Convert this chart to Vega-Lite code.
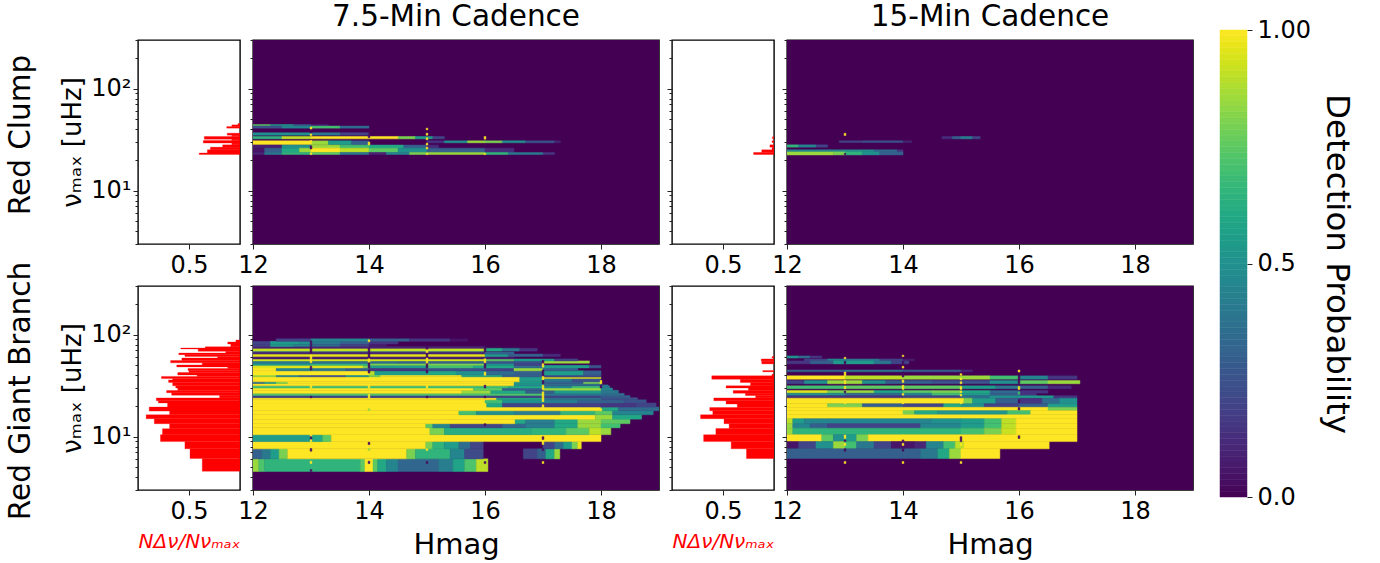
{"$schema":"https://vega.github.io/schema/vega-lite/v6.json","background":"white","padding":{"left":5,"top":0,"right":10,"bottom":0},"config":{"font":"DejaVu Sans","view":{"stroke":"#000","strokeWidth":1.4,"continuousWidth":406,"continuousHeight":204},"axis":{"grid":false,"domain":false,"labelFontSize":24,"labelColor":"#000","tickColor":"#222","titleColor":"#000","titleFontWeight":"normal","labelFlush":false,"labelOverlap":false}},"datasets":{"hRgb75":[{"f0":4.58,"f1":6.1,"v":0.37},{"f0":6.1,"f1":7.6,"v":0.49},{"f0":7.6,"f1":8.95,"v":0.54},{"f0":8.95,"f1":10.46,"v":0.78},{"f0":10.46,"f1":11.97,"v":0.76},{"f0":11.97,"f1":13.4,"v":0.69},{"f0":13.4,"f1":15,"v":0.84},{"f0":15,"f1":16.4,"v":0.92},{"f0":16.4,"f1":17.8,"v":0.69},{"f0":17.8,"f1":19.5,"v":0.89},{"f0":19.5,"f1":21.4,"v":0.71},{"f0":21.4,"f1":22.5,"v":0.8},{"f0":22.5,"f1":24,"v":0.82},{"f0":24,"f1":25.5,"v":0.2},{"f0":25.5,"f1":27,"v":0.67},{"f0":27,"f1":28.3,"v":0.72},{"f0":28.3,"f1":30,"v":0.61},{"f0":30,"f1":31.5,"v":0.63},{"f0":31.5,"f1":34,"v":0.66},{"f0":34,"f1":36,"v":0.7},{"f0":36,"f1":37.1,"v":0.66},{"f0":37.1,"f1":39,"v":0.77},{"f0":39,"f1":40.3,"v":0.42},{"f0":40.3,"f1":42.5,"v":0.61},{"f0":42.5,"f1":44.5,"v":0.5},{"f0":44.5,"f1":46.5,"v":0.51},{"f0":46.5,"f1":48.3,"v":0.12},{"f0":48.3,"f1":50.5,"v":0.62},{"f0":50.5,"f1":53,"v":0.37},{"f0":53,"f1":55.7,"v":0.68},{"f0":55.7,"f1":59,"v":0.57},{"f0":59,"f1":61,"v":0.22},{"f0":61,"f1":63.7,"v":0.54},{"f0":63.7,"f1":66,"v":0.6},{"f0":66,"f1":68.7,"v":0.14},{"f0":68.7,"f1":72.4,"v":0.41},{"f0":72.4,"f1":74,"v":0.58},{"f0":74,"f1":76,"v":0.34},{"f0":76,"f1":81,"v":0.09},{"f0":81,"f1":84.8,"v":0.12},{"f0":84.8,"f1":88.7,"v":0.04}],"hRgb15":[{"f0":6.1,"f1":7.6,"v":0.27},{"f0":7.6,"f1":8.95,"v":0.42},{"f0":8.95,"f1":10.46,"v":0.69},{"f0":10.46,"f1":12,"v":0.57},{"f0":12,"f1":13.4,"v":0.44},{"f0":13.4,"f1":15,"v":0.49},{"f0":15,"f1":16.4,"v":0.72},{"f0":16.4,"f1":17.95,"v":0.6},{"f0":17.95,"f1":19.3,"v":0.63},{"f0":19.3,"f1":20.9,"v":0.36},{"f0":20.9,"f1":22.5,"v":0.47},{"f0":22.5,"f1":24,"v":0.59},{"f0":24,"f1":25.3,"v":0.18},{"f0":25.3,"f1":26.7,"v":0.28},{"f0":26.7,"f1":28.3,"v":0.4},{"f0":28.3,"f1":30,"v":0.25},{"f0":30,"f1":31.5,"v":0.47},{"f0":31.5,"f1":34,"v":0.23},{"f0":34,"f1":36.6,"v":0.33},{"f0":36.6,"f1":39.45,"v":0.61},{"f0":39.45,"f1":41,"v":0.02},{"f0":43.2,"f1":44.5,"v":0.11},{"f0":51.7,"f1":55,"v":0.12},{"f0":55.3,"f1":57.8,"v":0.125},{"f0":59,"f1":61,"v":0.02}],"hRc75":[{"f0":22.6,"f1":23.4,"v":0.4},{"f0":23.4,"f1":25.16,"v":0.32},{"f0":25.16,"f1":26.7,"v":0.29},{"f0":26.7,"f1":28.15,"v":0.17},{"f0":28.15,"f1":29.3,"v":0.08},{"f0":29.3,"f1":31,"v":0.36},{"f0":31,"f1":32,"v":0.08},{"f0":32,"f1":34,"v":0.35},{"f0":34,"f1":35,"v":0.08},{"f0":35,"f1":36.6,"v":0.125},{"f0":41,"f1":42.5,"v":0.13},{"f0":42.5,"f1":44.15,"v":0.08},{"f0":44.15,"f1":45.5,"v":0.02}],"hRc15":[{"f0":22.6,"f1":23.7,"v":0.2},{"f0":23.7,"f1":25.16,"v":0.12},{"f0":25.16,"f1":26.5,"v":0.02},{"f0":26.7,"f1":28.15,"v":0.04},{"f0":29.7,"f1":30.8,"v":0.02},{"f0":32.2,"f1":33.7,"v":0.015}],"rc75":[{"m0":12,"m1":19,"f0":3,"f1":300,"p":0},{"m0":12,"m1":12.3,"f0":43.2,"f1":44.5,"p":0.75},{"m0":12.3,"m1":12.7,"f0":43.2,"f1":44.5,"p":0.55},{"m0":12.7,"m1":13,"f0":43.2,"f1":44.5,"p":0.3},{"m0":13,"m1":13.3,"f0":43.2,"f1":44.5,"p":0.1},{"m0":12,"m1":12.5,"f0":41,"f1":43,"p":0.25},{"m0":12.5,"m1":13,"f0":41,"f1":43,"p":0.45},{"m0":13,"m1":13.5,"f0":41,"f1":43,"p":0.7},{"m0":13.5,"m1":14,"f0":41,"f1":43,"p":0.35},{"m0":12,"m1":13,"f0":35,"f1":37,"p":0.5},{"m0":13,"m1":13.5,"f0":35,"f1":37,"p":0.4},{"m0":13.5,"m1":14,"f0":35,"f1":37,"p":0.2},{"m0":12,"m1":12.5,"f0":32.2,"f1":34,"p":0.65},{"m0":12.5,"m1":13,"f0":32.2,"f1":34,"p":0.9},{"m0":13,"m1":14.5,"f0":32.2,"f1":34,"p":1},{"m0":14.5,"m1":14.8,"f0":32.2,"f1":34,"p":0.8},{"m0":14.8,"m1":15.1,"f0":32.2,"f1":34,"p":0.55},{"m0":15.1,"m1":15.3,"f0":32.2,"f1":34,"p":0.2},{"m0":12,"m1":13,"f0":28.15,"f1":30.8,"p":1},{"m0":13,"m1":13.3,"f0":28.15,"f1":30.8,"p":0.85},{"m0":13.3,"m1":13.7,"f0":28.15,"f1":30.8,"p":0.55},{"m0":13.7,"m1":14,"f0":28.15,"f1":30.8,"p":0.3},{"m0":15,"m1":15.3,"f0":29.45,"f1":30.8,"p":0.15},{"m0":15.3,"m1":15.7,"f0":29.45,"f1":30.8,"p":0.5},{"m0":15.7,"m1":16,"f0":29.45,"f1":30.8,"p":0.85},{"m0":16,"m1":16.3,"f0":29.45,"f1":30.8,"p":0.8},{"m0":16.3,"m1":16.7,"f0":29.45,"f1":30.8,"p":0.5},{"m0":16.7,"m1":17.2,"f0":29.45,"f1":30.8,"p":0.25},{"m0":17.2,"m1":17.3,"f0":29.45,"f1":30.8,"p":0.1},{"m0":12,"m1":12.5,"f0":26.1,"f1":28,"p":0.08},{"m0":12.5,"m1":13,"f0":26.1,"f1":28,"p":0.5},{"m0":13,"m1":13.5,"f0":26.1,"f1":28,"p":0.85},{"m0":13.5,"m1":14,"f0":26.1,"f1":28,"p":0.7},{"m0":14,"m1":14.6,"f0":26.1,"f1":28,"p":0.6},{"m0":14.6,"m1":15,"f0":26.1,"f1":28,"p":0.3},{"m0":15,"m1":15.2,"f0":26.1,"f1":28,"p":0.12},{"m0":12,"m1":12.2,"f0":23.7,"f1":26.1,"p":0.05},{"m0":12.2,"m1":12.5,"f0":23.7,"f1":26.1,"p":0.3},{"m0":12.5,"m1":12.8,"f0":23.7,"f1":26.1,"p":0.6},{"m0":12.8,"m1":13,"f0":23.7,"f1":26.1,"p":0.85},{"m0":13,"m1":13.5,"f0":23.7,"f1":26.1,"p":1},{"m0":13.5,"m1":14,"f0":23.7,"f1":26.1,"p":0.9},{"m0":14,"m1":14.5,"f0":23.7,"f1":26.1,"p":0.75},{"m0":14.5,"m1":15,"f0":23.7,"f1":26.1,"p":0.5},{"m0":15,"m1":16,"f0":23.7,"f1":26.1,"p":0.3},{"m0":16,"m1":16.5,"f0":23.7,"f1":26.1,"p":0.12},{"m0":12,"m1":12.2,"f0":22.6,"f1":23.7,"p":0.1},{"m0":12.2,"m1":12.5,"f0":22.6,"f1":23.7,"p":0.4},{"m0":12.5,"m1":13,"f0":22.6,"f1":23.7,"p":0.65},{"m0":13,"m1":13.5,"f0":22.6,"f1":23.7,"p":0.75},{"m0":13.5,"m1":14,"f0":22.6,"f1":23.7,"p":0.4},{"m0":14,"m1":14.3,"f0":22.6,"f1":23.7,"p":0.1},{"m0":14.3,"m1":14.7,"f0":22.6,"f1":23.7,"p":0.45},{"m0":14.7,"m1":15,"f0":22.6,"f1":23.7,"p":0.8},{"m0":15,"m1":16,"f0":22.6,"f1":23.7,"p":0.85},{"m0":16,"m1":16.4,"f0":22.6,"f1":23.7,"p":0.65},{"m0":16.4,"m1":17,"f0":22.6,"f1":23.7,"p":0.4},{"m0":17,"m1":17.2,"f0":22.6,"f1":23.7,"p":0.15},{"m0":12.985,"m1":13.015,"f0":40,"f1":42,"p":1},{"m0":12.985,"m1":13.015,"f0":37,"f1":39.5,"p":0.02},{"m0":12.985,"m1":13.015,"f0":34.7,"f1":36,"p":1},{"m0":12.985,"m1":13.015,"f0":29,"f1":31,"p":1},{"m0":12.985,"m1":13.015,"f0":25.6,"f1":27.5,"p":0.02},{"m0":12.985,"m1":13.015,"f0":22.6,"f1":23.5,"p":1},{"m0":13.985,"m1":14.015,"f0":33,"f1":36.5,"p":0.05},{"m0":13.985,"m1":14.015,"f0":28,"f1":30,"p":1},{"m0":14.985,"m1":15.015,"f0":39.5,"f1":41,"p":1},{"m0":14.985,"m1":15.015,"f0":35,"f1":36.6,"p":1},{"m0":14.985,"m1":15.015,"f0":31.5,"f1":33,"p":1},{"m0":14.985,"m1":15.015,"f0":28,"f1":29.2,"p":1},{"m0":14.985,"m1":15.015,"f0":25.6,"f1":26.7,"p":1},{"m0":14.985,"m1":15.015,"f0":22.6,"f1":23.2,"p":1},{"m0":15.985,"m1":16.015,"f0":32,"f1":34,"p":1},{"m0":15.985,"m1":16.015,"f0":22.6,"f1":23.2,"p":1}],"rc15":[{"m0":12,"m1":19,"f0":3,"f1":300,"p":0},{"m0":14.67,"m1":14.85,"f0":32.2,"f1":34,"p":0.12},{"m0":14.85,"m1":15,"f0":32.2,"f1":34,"p":0.3},{"m0":15,"m1":15.2,"f0":32.2,"f1":34,"p":0.42},{"m0":15.2,"m1":15.33,"f0":32.2,"f1":34,"p":0.2},{"m0":12.9,"m1":13.3,"f0":29.7,"f1":30.8,"p":0.2},{"m0":13.3,"m1":14,"f0":29.7,"f1":30.8,"p":0.25},{"m0":14,"m1":14.15,"f0":29.7,"f1":30.8,"p":0.1},{"m0":12,"m1":12.2,"f0":26.7,"f1":28.15,"p":0.65},{"m0":12.2,"m1":12.5,"f0":26.7,"f1":28.15,"p":0.45},{"m0":12.5,"m1":12.7,"f0":26.7,"f1":28.15,"p":0.2},{"m0":12,"m1":13,"f0":24,"f1":25.16,"p":0.45},{"m0":13,"m1":13.5,"f0":24,"f1":25.16,"p":0.5},{"m0":13.5,"m1":13.9,"f0":24,"f1":25.16,"p":0.35},{"m0":13.9,"m1":14,"f0":24,"f1":25.16,"p":0.15},{"m0":12,"m1":12.8,"f0":22.4,"f1":24,"p":0.85},{"m0":12.8,"m1":13,"f0":22.4,"f1":24,"p":0.8},{"m0":13,"m1":13.3,"f0":22.4,"f1":24,"p":0.65},{"m0":13.3,"m1":13.6,"f0":22.4,"f1":24,"p":0.5},{"m0":13.6,"m1":14,"f0":22.4,"f1":24,"p":0.3},{"m0":12.985,"m1":13.015,"f0":34.7,"f1":36.5,"p":1},{"m0":12.985,"m1":13.015,"f0":22.6,"f1":23.2,"p":0.02}],"rgb75":[{"m0":12,"m1":19,"f0":3,"f1":300,"p":0},{"m0":12,"m1":12.1,"f0":4.55,"f1":6.06,"p":0.85},{"m0":12.1,"m1":12.2,"f0":4.55,"f1":6.06,"p":0.72},{"m0":12.2,"m1":13.85,"f0":4.55,"f1":6.06,"p":0.65},{"m0":13.85,"m1":13.93,"f0":4.55,"f1":6.06,"p":0.75},{"m0":13.93,"m1":14.07,"f0":4.55,"f1":6.06,"p":1},{"m0":14.07,"m1":14.15,"f0":4.55,"f1":6.06,"p":0.75},{"m0":14.15,"m1":14.3,"f0":4.55,"f1":6.06,"p":0.6},{"m0":14.3,"m1":14.5,"f0":4.55,"f1":6.06,"p":0.45},{"m0":14.5,"m1":15.2,"f0":4.55,"f1":6.06,"p":0.33},{"m0":15.2,"m1":15.45,"f0":4.55,"f1":6.06,"p":0.42},{"m0":15.45,"m1":15.65,"f0":4.55,"f1":6.06,"p":0.58},{"m0":15.65,"m1":15.85,"f0":4.55,"f1":6.06,"p":0.72},{"m0":15.85,"m1":16.05,"f0":4.55,"f1":6.06,"p":0.9},{"m0":12,"m1":12.15,"f0":6.06,"f1":7.6,"p":0.3},{"m0":12.15,"m1":12.3,"f0":6.06,"f1":7.6,"p":0.4},{"m0":12.3,"m1":12.45,"f0":6.06,"f1":7.6,"p":0.55},{"m0":12.45,"m1":12.6,"f0":6.06,"f1":7.6,"p":0.8},{"m0":12.6,"m1":14.65,"f0":6.06,"f1":7.6,"p":1},{"m0":14.65,"m1":14.8,"f0":6.06,"f1":7.6,"p":0.8},{"m0":14.8,"m1":15.4,"f0":6.06,"f1":7.6,"p":0.65},{"m0":15.4,"m1":15.65,"f0":6.06,"f1":7.6,"p":0.45},{"m0":15.65,"m1":15.97,"f0":6.06,"f1":7.6,"p":0.22},{"m0":16.66,"m1":16.9,"f0":6.06,"f1":7.6,"p":0.2},{"m0":16.9,"m1":17.05,"f0":6.06,"f1":7.6,"p":0.3},{"m0":17.05,"m1":17.2,"f0":6.06,"f1":7.6,"p":0.6},{"m0":17.2,"m1":17.29,"f0":6.06,"f1":7.6,"p":0.85},{"m0":12,"m1":14.98,"f0":7.6,"f1":8.95,"p":1},{"m0":14.98,"m1":15.1,"f0":7.6,"f1":8.95,"p":0.8},{"m0":15.1,"m1":15.3,"f0":7.6,"f1":8.95,"p":0.65},{"m0":15.3,"m1":15.55,"f0":7.6,"f1":8.95,"p":0.55},{"m0":15.55,"m1":15.75,"f0":7.6,"f1":8.95,"p":0.35},{"m0":15.75,"m1":15.97,"f0":7.6,"f1":8.95,"p":0.2},{"m0":17,"m1":17.2,"f0":7.6,"f1":8.95,"p":0.2},{"m0":17.2,"m1":17.35,"f0":7.6,"f1":8.95,"p":0.35},{"m0":17.35,"m1":17.5,"f0":7.6,"f1":8.95,"p":0.55},{"m0":17.5,"m1":17.6,"f0":7.6,"f1":8.95,"p":0.8},{"m0":17.6,"m1":17.66,"f0":7.6,"f1":8.95,"p":0.97},{"m0":12,"m1":13,"f0":8.95,"f1":10.46,"p":0.55},{"m0":13,"m1":13.2,"f0":8.95,"f1":10.46,"p":0.6},{"m0":13.2,"m1":13.35,"f0":8.95,"f1":10.46,"p":0.75},{"m0":13.35,"m1":18,"f0":8.95,"f1":10.46,"p":1},{"m0":12,"m1":15.05,"f0":10.46,"f1":12.2,"p":1},{"m0":15.05,"m1":15.3,"f0":10.46,"f1":12.2,"p":0.8},{"m0":15.3,"m1":16.8,"f0":10.46,"f1":12.2,"p":0.62},{"m0":16.8,"m1":17.4,"f0":10.46,"f1":12.2,"p":0.65},{"m0":17.4,"m1":17.8,"f0":10.46,"f1":12.2,"p":0.75},{"m0":17.8,"m1":18,"f0":10.46,"f1":12.2,"p":0.9},{"m0":18,"m1":18.17,"f0":10.46,"f1":12.2,"p":0.85},{"m0":12,"m1":14.98,"f0":12.2,"f1":13.4,"p":1},{"m0":14.98,"m1":15.1,"f0":12.2,"f1":13.4,"p":0.75},{"m0":15.1,"m1":15.4,"f0":12.2,"f1":13.4,"p":0.45},{"m0":15.4,"m1":16.3,"f0":12.2,"f1":13.4,"p":0.2},{"m0":16.3,"m1":16.7,"f0":12.2,"f1":13.4,"p":0.33},{"m0":16.7,"m1":17.2,"f0":12.2,"f1":13.4,"p":0.42},{"m0":17.2,"m1":17.6,"f0":12.2,"f1":13.4,"p":0.6},{"m0":17.6,"m1":18,"f0":12.2,"f1":13.4,"p":0.85},{"m0":18,"m1":18.33,"f0":12.2,"f1":13.4,"p":0.7},{"m0":12,"m1":16.52,"f0":13.4,"f1":14.85,"p":1},{"m0":16.52,"m1":16.7,"f0":13.4,"f1":14.85,"p":0.6},{"m0":16.7,"m1":17.2,"f0":13.4,"f1":14.85,"p":0.42},{"m0":17.2,"m1":17.6,"f0":13.4,"f1":14.85,"p":0.6},{"m0":17.6,"m1":18,"f0":13.4,"f1":14.85,"p":0.85},{"m0":18,"m1":18.5,"f0":13.4,"f1":14.85,"p":0.75},{"m0":12,"m1":17.9,"f0":14.85,"f1":16.4,"p":1},{"m0":17.9,"m1":18.2,"f0":14.85,"f1":16.4,"p":0.85},{"m0":18.2,"m1":18.7,"f0":14.85,"f1":16.4,"p":0.6},{"m0":12,"m1":15.55,"f0":16.4,"f1":17.95,"p":1},{"m0":15.55,"m1":15.85,"f0":16.4,"f1":17.95,"p":0.7},{"m0":15.85,"m1":16.5,"f0":16.4,"f1":17.95,"p":0.5},{"m0":16.5,"m1":17.3,"f0":16.4,"f1":17.95,"p":0.42},{"m0":17.3,"m1":17.9,"f0":16.4,"f1":17.95,"p":0.65},{"m0":17.9,"m1":18.2,"f0":16.4,"f1":17.95,"p":0.75},{"m0":18.2,"m1":18.9,"f0":16.4,"f1":17.95,"p":0.45},{"m0":12,"m1":18,"f0":17.95,"f1":19.5,"p":1},{"m0":18,"m1":18.3,"f0":17.95,"f1":19.5,"p":0.6},{"m0":18.3,"m1":19,"f0":17.95,"f1":19.5,"p":0.35},{"m0":12,"m1":16.03,"f0":19.5,"f1":21.4,"p":1},{"m0":16.03,"m1":16.3,"f0":19.5,"f1":21.4,"p":0.6},{"m0":16.3,"m1":17,"f0":19.5,"f1":21.4,"p":0.2},{"m0":17,"m1":18,"f0":19.5,"f1":21.4,"p":0.18},{"m0":18,"m1":18.6,"f0":19.5,"f1":21.4,"p":0.15},{"m0":18.6,"m1":18.95,"f0":19.5,"f1":21.4,"p":0.2},{"m0":12,"m1":16,"f0":21.4,"f1":23,"p":1},{"m0":16,"m1":16.3,"f0":21.4,"f1":23,"p":0.7},{"m0":16.3,"m1":17,"f0":21.4,"f1":23,"p":0.5},{"m0":17,"m1":17.6,"f0":21.4,"f1":23,"p":0.42},{"m0":17.6,"m1":18.4,"f0":21.4,"f1":23,"p":0.3},{"m0":18.4,"m1":18.78,"f0":21.4,"f1":23,"p":0.25},{"m0":12,"m1":16.2,"f0":23,"f1":24.1,"p":1},{"m0":16.2,"m1":17,"f0":23,"f1":24.1,"p":0.6},{"m0":17,"m1":18,"f0":23,"f1":24.1,"p":0.4},{"m0":18,"m1":18.63,"f0":23,"f1":24.1,"p":0.25},{"m0":12,"m1":18,"f0":24.1,"f1":25.3,"p":0.2},{"m0":18,"m1":18.5,"f0":24.1,"f1":25.3,"p":0.3},{"m0":12,"m1":17,"f0":25.3,"f1":26.6,"p":0.72},{"m0":17,"m1":18,"f0":25.3,"f1":26.6,"p":0.4},{"m0":18,"m1":18.4,"f0":25.3,"f1":26.6,"p":0.35},{"m0":12,"m1":15.6,"f0":26.6,"f1":28.5,"p":1},{"m0":15.6,"m1":16.1,"f0":26.6,"f1":28.5,"p":0.85},{"m0":16.1,"m1":16.7,"f0":26.6,"f1":28.5,"p":0.6},{"m0":16.7,"m1":17.2,"f0":26.6,"f1":28.5,"p":0.3},{"m0":17.2,"m1":18,"f0":26.6,"f1":28.5,"p":0.55},{"m0":18,"m1":18.3,"f0":26.6,"f1":28.5,"p":0.4},{"m0":12,"m1":15.8,"f0":28.5,"f1":30,"p":1},{"m0":15.8,"m1":16.3,"f0":28.5,"f1":30,"p":0.75},{"m0":16.3,"m1":17,"f0":28.5,"f1":30,"p":0.3},{"m0":17,"m1":18,"f0":28.5,"f1":30,"p":0.85},{"m0":18,"m1":18.2,"f0":28.5,"f1":30,"p":0.45},{"m0":12,"m1":16.4,"f0":30,"f1":31.5,"p":0.68},{"m0":16.4,"m1":17,"f0":30,"f1":31.5,"p":0.6},{"m0":17,"m1":17.5,"f0":30,"f1":31.5,"p":0.45},{"m0":17.5,"m1":18,"f0":30,"f1":31.5,"p":0.7},{"m0":18,"m1":18.15,"f0":30,"f1":31.5,"p":0.4},{"m0":12,"m1":16.5,"f0":31.5,"f1":33.2,"p":1},{"m0":16.5,"m1":17,"f0":31.5,"f1":33.2,"p":0.5},{"m0":17,"m1":18,"f0":31.5,"f1":33.2,"p":0.35},{"m0":12,"m1":12.2,"f0":33.2,"f1":34.5,"p":0.35},{"m0":12.2,"m1":12.4,"f0":33.2,"f1":34.5,"p":0.55},{"m0":12.4,"m1":12.6,"f0":33.2,"f1":34.5,"p":0.8},{"m0":12.6,"m1":16.5,"f0":33.2,"f1":34.5,"p":1},{"m0":16.5,"m1":17,"f0":33.2,"f1":34.5,"p":0.55},{"m0":17,"m1":17.7,"f0":33.2,"f1":34.5,"p":0.3},{"m0":17.7,"m1":18,"f0":33.2,"f1":34.5,"p":0.8},{"m0":12,"m1":16.6,"f0":34.5,"f1":38.6,"p":1},{"m0":16.6,"m1":17,"f0":34.5,"f1":38.6,"p":0.55},{"m0":17,"m1":17.5,"f0":34.5,"f1":37.2,"p":0.4},{"m0":17.5,"m1":18,"f0":34.5,"f1":37.2,"p":0.25},{"m0":17,"m1":18,"f0":37.2,"f1":38.3,"p":0.95},{"m0":12,"m1":12.4,"f0":38.6,"f1":40.3,"p":0.85},{"m0":12.4,"m1":12.8,"f0":38.6,"f1":40.3,"p":0.45},{"m0":12.8,"m1":13,"f0":38.6,"f1":40.3,"p":0.3},{"m0":13,"m1":13.6,"f0":38.6,"f1":40.3,"p":0.25},{"m0":13.6,"m1":14,"f0":38.6,"f1":40.3,"p":0.5},{"m0":14,"m1":14.2,"f0":38.6,"f1":40.3,"p":0.8},{"m0":14.2,"m1":15.6,"f0":38.6,"f1":40.3,"p":1},{"m0":15.6,"m1":16.3,"f0":38.6,"f1":40.3,"p":0.6},{"m0":16.3,"m1":17,"f0":38.6,"f1":40.3,"p":0.3},{"m0":17,"m1":18,"f0":38.6,"f1":40.3,"p":0.25},{"m0":12,"m1":14,"f0":40.3,"f1":44.2,"p":1},{"m0":14,"m1":14.1,"f0":40.3,"f1":44.2,"p":0.9},{"m0":14.1,"m1":15,"f0":40.3,"f1":44.2,"p":0.55},{"m0":15,"m1":15.5,"f0":40.3,"f1":44.2,"p":0.6},{"m0":15.5,"m1":16,"f0":40.3,"f1":44.2,"p":0.5},{"m0":16,"m1":16.5,"f0":40.3,"f1":44.2,"p":0.35},{"m0":16.5,"m1":17,"f0":40.3,"f1":44.2,"p":0.3},{"m0":17,"m1":17.7,"f0":40.3,"f1":44.2,"p":0.55},{"m0":17.7,"m1":18,"f0":40.3,"f1":44.2,"p":0.3},{"m0":12,"m1":12.4,"f0":44.2,"f1":47.2,"p":1},{"m0":12.4,"m1":13,"f0":44.2,"f1":47.2,"p":0.45},{"m0":13,"m1":13.6,"f0":44.2,"f1":47.2,"p":0.4},{"m0":13.6,"m1":14,"f0":44.2,"f1":47.2,"p":0.3},{"m0":14,"m1":15,"f0":44.2,"f1":47.2,"p":0.15},{"m0":15,"m1":16,"f0":44.2,"f1":47.2,"p":0.25},{"m0":16,"m1":16.5,"f0":44.2,"f1":47.2,"p":0.2},{"m0":16.5,"m1":17,"f0":44.2,"f1":47.2,"p":0.85},{"m0":17,"m1":17.6,"f0":44.2,"f1":47.2,"p":0.3},{"m0":12,"m1":13.9,"f0":47.2,"f1":50,"p":0.95},{"m0":13.9,"m1":14,"f0":47.2,"f1":50,"p":0.8},{"m0":14,"m1":15,"f0":47.2,"f1":50,"p":0.55},{"m0":15,"m1":15.8,"f0":47.2,"f1":50,"p":0.7},{"m0":15.8,"m1":16.5,"f0":47.2,"f1":50,"p":0.6},{"m0":16.5,"m1":17,"f0":47.2,"f1":50,"p":0.35},{"m0":17,"m1":17.8,"f0":47.2,"f1":50,"p":0.55},{"m0":17.8,"m1":18,"f0":47.2,"f1":50,"p":0.25},{"m0":12,"m1":13,"f0":50,"f1":52.5,"p":0.55},{"m0":13,"m1":14,"f0":50,"f1":52.5,"p":0.65},{"m0":14,"m1":16,"f0":50,"f1":52.5,"p":0.8},{"m0":16,"m1":16.5,"f0":50,"f1":52.5,"p":0.5},{"m0":16.5,"m1":17,"f0":50,"f1":52.5,"p":0.2},{"m0":12,"m1":13,"f0":52.5,"f1":55.3,"p":0.4},{"m0":13,"m1":14.5,"f0":52.5,"f1":55.3,"p":0.35},{"m0":14.5,"m1":16,"f0":52.5,"f1":55.3,"p":0.3},{"m0":16,"m1":17,"f0":52.5,"f1":55.3,"p":0.25},{"m0":17,"m1":17.8,"f0":52.5,"f1":55.3,"p":0.85},{"m0":12,"m1":16,"f0":55.3,"f1":57.8,"p":0.93},{"m0":16,"m1":16.5,"f0":55.3,"f1":57.8,"p":0.75},{"m0":16.5,"m1":17.2,"f0":55.3,"f1":57.8,"p":0.55},{"m0":17.2,"m1":17.6,"f0":55.3,"f1":57.8,"p":0.2},{"m0":12,"m1":16.5,"f0":57.8,"f1":61,"p":0.08},{"m0":12,"m1":16,"f0":61,"f1":64.5,"p":0.96},{"m0":16,"m1":16.4,"f0":61,"f1":64.5,"p":0.55},{"m0":16.4,"m1":17,"f0":61,"f1":64.5,"p":0.3},{"m0":17,"m1":17.3,"f0":61,"f1":64.5,"p":0.12},{"m0":12,"m1":16,"f0":64.5,"f1":67.7,"p":0.1},{"m0":16,"m1":16.5,"f0":64.5,"f1":67.7,"p":0.3},{"m0":12,"m1":16,"f0":67.7,"f1":69,"p":0.3},{"m0":12,"m1":16,"f0":69,"f1":73.5,"p":0.91},{"m0":16,"m1":16.3,"f0":69,"f1":73.5,"p":0.6},{"m0":16.3,"m1":16.6,"f0":69,"f1":73.5,"p":0.4},{"m0":16.6,"m1":16.9,"f0":69,"f1":73.5,"p":0.15},{"m0":12,"m1":16,"f0":73.5,"f1":76.7,"p":0.1},{"m0":12,"m1":12.3,"f0":76.7,"f1":80.5,"p":0.2},{"m0":12.3,"m1":12.7,"f0":76.7,"f1":80.5,"p":0.55},{"m0":12.7,"m1":13,"f0":76.7,"f1":80.5,"p":0.45},{"m0":13,"m1":13.5,"f0":76.7,"f1":80.5,"p":0.35},{"m0":13.5,"m1":14,"f0":76.7,"f1":80.5,"p":0.2},{"m0":14,"m1":14.3,"f0":76.7,"f1":80.5,"p":0.08},{"m0":12,"m1":12.3,"f0":81,"f1":86,"p":0.2},{"m0":12.3,"m1":12.8,"f0":81,"f1":86,"p":0.55},{"m0":12.8,"m1":13,"f0":81,"f1":86,"p":0.5},{"m0":13,"m1":13.5,"f0":81,"f1":86,"p":0.4},{"m0":13.5,"m1":14,"f0":81,"f1":86,"p":0.3},{"m0":14,"m1":14.5,"f0":81,"f1":86,"p":0.15},{"m0":12.4,"m1":13,"f0":86,"f1":91,"p":0.2},{"m0":13,"m1":14,"f0":86,"f1":91,"p":0.45},{"m0":14,"m1":14.7,"f0":86,"f1":91,"p":0.3},{"m0":14.7,"m1":15.4,"f0":86,"f1":91,"p":0.15},{"m0":15.4,"m1":15.7,"f0":86,"f1":91,"p":0.05},{"m0":18,"m1":18.12,"f0":30.1,"f1":32.2,"p":0.4},{"m0":12.985,"m1":13.015,"f0":75,"f1":87,"p":0.05},{"m0":12.985,"m1":13.015,"f0":66,"f1":74,"p":0.02},{"m0":12.985,"m1":13.015,"f0":53,"f1":63,"p":1},{"m0":12.985,"m1":13.015,"f0":45,"f1":49,"p":0.05},{"m0":12.985,"m1":13.015,"f0":30,"f1":32,"p":1},{"m0":12.985,"m1":13.015,"f0":24,"f1":25,"p":0.05},{"m0":12.985,"m1":13.015,"f0":10,"f1":10.46,"p":1},{"m0":12.985,"m1":13.015,"f0":9.35,"f1":10,"p":0.05},{"m0":12.985,"m1":13.015,"f0":8.9,"f1":9.35,"p":1},{"m0":12.985,"m1":13.015,"f0":7.2,"f1":7.64,"p":0.05},{"m0":12.985,"m1":13.015,"f0":5.45,"f1":5.75,"p":1},{"m0":12.985,"m1":13.015,"f0":4.55,"f1":4.76,"p":0.05},{"m0":13.985,"m1":14.015,"f0":85,"f1":89,"p":1},{"m0":13.985,"m1":14.015,"f0":58,"f1":74,"p":0.03},{"m0":13.985,"m1":14.015,"f0":53,"f1":58,"p":1},{"m0":13.985,"m1":14.015,"f0":47,"f1":53,"p":0.03},{"m0":13.985,"m1":14.015,"f0":42,"f1":45,"p":0.03},{"m0":13.985,"m1":14.015,"f0":30,"f1":32,"p":1},{"m0":13.985,"m1":14.015,"f0":24,"f1":26,"p":1},{"m0":13.985,"m1":14.015,"f0":18,"f1":18.8,"p":0.85},{"m0":13.985,"m1":14.015,"f0":8.36,"f1":8.8,"p":0.02},{"m0":13.985,"m1":14.015,"f0":7.3,"f1":7.64,"p":0.85},{"m0":13.985,"m1":14.015,"f0":5.45,"f1":5.75,"p":0.03},{"m0":14.985,"m1":15.015,"f0":71,"f1":77,"p":0.03},{"m0":14.985,"m1":15.015,"f0":66,"f1":71,"p":1},{"m0":14.985,"m1":15.015,"f0":59,"f1":66,"p":0.03},{"m0":14.985,"m1":15.015,"f0":52,"f1":59,"p":1},{"m0":14.985,"m1":15.015,"f0":47,"f1":52,"p":0.03},{"m0":14.985,"m1":15.015,"f0":42,"f1":45,"p":0.03},{"m0":14.985,"m1":15.015,"f0":30,"f1":32,"p":1},{"m0":14.985,"m1":15.015,"f0":24,"f1":25,"p":0.03},{"m0":14.985,"m1":15.015,"f0":7.3,"f1":7.6,"p":1},{"m0":14.985,"m1":15.015,"f0":5.45,"f1":5.7,"p":0.03},{"m0":15.985,"m1":16.015,"f0":68,"f1":74,"p":0.03},{"m0":15.985,"m1":16.015,"f0":53,"f1":58,"p":1},{"m0":15.985,"m1":16.015,"f0":47,"f1":52,"p":0.03},{"m0":15.985,"m1":16.015,"f0":40,"f1":43,"p":1},{"m0":15.985,"m1":16.015,"f0":30,"f1":32,"p":0.03},{"m0":15.985,"m1":16.015,"f0":24,"f1":25,"p":0.03},{"m0":15.985,"m1":16.015,"f0":12.8,"f1":13.4,"p":0.03},{"m0":15.985,"m1":16.015,"f0":8.4,"f1":8.8,"p":0.03},{"m0":15.985,"m1":16.015,"f0":5.45,"f1":5.7,"p":0.03},{"m0":16.985,"m1":17.015,"f0":52,"f1":56,"p":0.03},{"m0":16.985,"m1":17.015,"f0":48,"f1":52,"p":1},{"m0":16.985,"m1":17.015,"f0":39,"f1":45,"p":0.03},{"m0":16.985,"m1":17.015,"f0":36,"f1":39,"p":1},{"m0":16.985,"m1":17.015,"f0":33,"f1":35.5,"p":0.03},{"m0":16.985,"m1":17.015,"f0":29,"f1":32,"p":1},{"m0":16.985,"m1":17.015,"f0":22,"f1":27.5,"p":1},{"m0":16.985,"m1":17.015,"f0":18.4,"f1":20.5,"p":1},{"m0":16.985,"m1":17.015,"f0":9.4,"f1":10,"p":0.03},{"m0":16.985,"m1":17.015,"f0":8.4,"f1":9.1,"p":1},{"m0":16.985,"m1":17.015,"f0":7.3,"f1":7.6,"p":0.03},{"m0":16.985,"m1":17.015,"f0":5.45,"f1":5.7,"p":1},{"m0":17.985,"m1":18.015,"f0":33,"f1":35.5,"p":1},{"m0":17.985,"m1":18.015,"f0":30,"f1":32,"p":0.03},{"m0":17.985,"m1":18.015,"f0":18,"f1":18.8,"p":1}],"rgb15":[{"m0":12,"m1":19,"f0":3,"f1":300,"p":0},{"m0":12,"m1":12.2,"f0":59,"f1":61.85,"p":0.5},{"m0":12.2,"m1":12.4,"f0":59,"f1":61.85,"p":0.35},{"m0":12.4,"m1":12.6,"f0":59,"f1":61.85,"p":0.15},{"m0":12.3,"m1":12.7,"f0":55.3,"f1":57.8,"p":0.2},{"m0":12.7,"m1":13,"f0":55.3,"f1":57.8,"p":0.45},{"m0":13,"m1":13.6,"f0":55.3,"f1":57.8,"p":0.4},{"m0":13.6,"m1":14,"f0":55.3,"f1":57.8,"p":0.2},{"m0":14,"m1":14.2,"f0":55.3,"f1":57.8,"p":0.07},{"m0":12,"m1":12.4,"f0":51.7,"f1":55.3,"p":0.15},{"m0":12.4,"m1":12.8,"f0":51.7,"f1":55.3,"p":0.3},{"m0":12.8,"m1":13.5,"f0":51.7,"f1":55.3,"p":0.55},{"m0":13.5,"m1":13.8,"f0":51.7,"f1":55.3,"p":0.4},{"m0":13.8,"m1":14.1,"f0":51.7,"f1":55.3,"p":0.2},{"m0":12,"m1":13,"f0":43.2,"f1":45.15,"p":0.3},{"m0":13,"m1":14,"f0":43.2,"f1":45.15,"p":0.38},{"m0":14,"m1":15,"f0":43.2,"f1":45.15,"p":0.28},{"m0":15,"m1":15.2,"f0":43.2,"f1":45.15,"p":0.1},{"m0":12,"m1":13,"f0":36.6,"f1":39.45,"p":1},{"m0":13,"m1":14,"f0":36.6,"f1":39.45,"p":0.9},{"m0":14,"m1":15.5,"f0":36.6,"f1":39.45,"p":0.85},{"m0":15.5,"m1":16,"f0":36.6,"f1":39.45,"p":0.7},{"m0":16,"m1":16.5,"f0":36.6,"f1":39.45,"p":0.45},{"m0":16.5,"m1":17,"f0":36.6,"f1":39.45,"p":0.15},{"m0":12,"m1":12.3,"f0":33,"f1":35.5,"p":0.2},{"m0":12.3,"m1":12.7,"f0":33,"f1":35.5,"p":0.5},{"m0":12.7,"m1":13.3,"f0":33,"f1":35.5,"p":0.85},{"m0":13.3,"m1":13.7,"f0":33,"f1":35.5,"p":0.5},{"m0":13.7,"m1":14.5,"f0":33,"f1":35.5,"p":0.3},{"m0":14.5,"m1":15.5,"f0":33,"f1":35.5,"p":0.25},{"m0":15.5,"m1":16,"f0":33,"f1":35.5,"p":0.5},{"m0":16,"m1":16.5,"f0":33,"f1":35.5,"p":0.75},{"m0":16.5,"m1":17.05,"f0":33,"f1":35.5,"p":0.85},{"m0":12,"m1":13,"f0":29.5,"f1":31.5,"p":0.7},{"m0":13,"m1":15,"f0":29.5,"f1":31.5,"p":0.75},{"m0":15,"m1":15.6,"f0":29.5,"f1":31.5,"p":0.55},{"m0":15.6,"m1":16,"f0":29.5,"f1":31.5,"p":0.4},{"m0":16,"m1":16.5,"f0":29.5,"f1":31.5,"p":0.3},{"m0":16.5,"m1":16.9,"f0":29.5,"f1":31.5,"p":0.12},{"m0":12,"m1":12.7,"f0":26.7,"f1":28.3,"p":0.95},{"m0":12.7,"m1":13,"f0":26.7,"f1":28.3,"p":0.8},{"m0":13,"m1":13.5,"f0":26.7,"f1":28.3,"p":0.85},{"m0":13.5,"m1":14,"f0":26.7,"f1":28.3,"p":0.6},{"m0":14,"m1":14.5,"f0":26.7,"f1":28.3,"p":0.75},{"m0":14.5,"m1":15,"f0":26.7,"f1":28.3,"p":0.8},{"m0":15,"m1":15.5,"f0":26.7,"f1":28.3,"p":0.6},{"m0":15.5,"m1":16,"f0":26.7,"f1":28.3,"p":0.35},{"m0":16,"m1":16.5,"f0":26.7,"f1":28.3,"p":0.15},{"m0":12,"m1":13,"f0":25.2,"f1":26.7,"p":0.5},{"m0":13,"m1":14,"f0":25.2,"f1":26.7,"p":0.35},{"m0":14,"m1":14.5,"f0":25.2,"f1":26.7,"p":0.45},{"m0":14.5,"m1":15,"f0":25.2,"f1":26.7,"p":0.7},{"m0":15,"m1":15.5,"f0":25.2,"f1":26.7,"p":0.55},{"m0":15.5,"m1":16,"f0":25.2,"f1":26.7,"p":0.3},{"m0":16,"m1":16.3,"f0":25.2,"f1":26.7,"p":0.15},{"m0":12,"m1":14,"f0":23.8,"f1":25.2,"p":0.15},{"m0":14,"m1":15,"f0":23.8,"f1":25.2,"p":0.2},{"m0":15,"m1":15.5,"f0":23.8,"f1":25.2,"p":0.35},{"m0":15.5,"m1":16,"f0":23.8,"f1":25.2,"p":0.5},{"m0":16,"m1":16.6,"f0":23.8,"f1":25.2,"p":0.55},{"m0":16.6,"m1":17,"f0":23.8,"f1":25.2,"p":0.15},{"m0":12,"m1":15.05,"f0":21,"f1":23.8,"p":1},{"m0":15.05,"m1":15.2,"f0":21,"f1":23.8,"p":0.8},{"m0":15.2,"m1":15.6,"f0":21,"f1":23.8,"p":0.55},{"m0":15.6,"m1":16,"f0":21,"f1":23.8,"p":0.3},{"m0":16,"m1":16.4,"f0":21,"f1":23.8,"p":0.15},{"m0":16.4,"m1":16.7,"f0":21,"f1":23.8,"p":0.35},{"m0":16.7,"m1":17,"f0":21,"f1":23.8,"p":0.5},{"m0":12,"m1":12.7,"f0":19.4,"f1":21,"p":1},{"m0":12.7,"m1":13.3,"f0":19.4,"f1":21,"p":0.8},{"m0":13.3,"m1":14,"f0":19.4,"f1":21,"p":0.3},{"m0":14,"m1":14.7,"f0":19.4,"f1":21,"p":0.2},{"m0":14.7,"m1":15,"f0":19.4,"f1":21,"p":0.6},{"m0":15,"m1":15.4,"f0":19.4,"f1":21,"p":0.5},{"m0":15.4,"m1":16,"f0":19.4,"f1":21,"p":0.2},{"m0":16,"m1":16.5,"f0":19.4,"f1":21,"p":0.3},{"m0":16.5,"m1":17,"f0":19.4,"f1":21,"p":0.55},{"m0":12,"m1":16.5,"f0":18,"f1":19.4,"p":1},{"m0":16.5,"m1":17,"f0":18,"f1":19.4,"p":0.8},{"m0":12,"m1":14,"f0":16.4,"f1":18,"p":1},{"m0":14,"m1":14.2,"f0":16.4,"f1":18,"p":0.8},{"m0":14.2,"m1":14.6,"f0":16.4,"f1":18,"p":0.6},{"m0":14.6,"m1":15.8,"f0":16.4,"f1":18,"p":0.52},{"m0":15.8,"m1":16.2,"f0":16.4,"f1":18,"p":0.7},{"m0":16.2,"m1":17,"f0":16.4,"f1":18,"p":1},{"m0":12,"m1":17,"f0":15,"f1":16.4,"p":1},{"m0":12,"m1":12.1,"f0":13.4,"f1":15,"p":0.9},{"m0":12.1,"m1":12.3,"f0":13.4,"f1":15,"p":0.55},{"m0":12.3,"m1":14.5,"f0":13.4,"f1":15,"p":0.45},{"m0":14.5,"m1":15,"f0":13.4,"f1":15,"p":0.5},{"m0":15,"m1":15.4,"f0":13.4,"f1":15,"p":0.55},{"m0":15.4,"m1":15.7,"f0":13.4,"f1":15,"p":0.7},{"m0":15.7,"m1":15.95,"f0":13.4,"f1":15,"p":0.9},{"m0":15.95,"m1":17,"f0":13.4,"f1":15,"p":1},{"m0":12,"m1":12.1,"f0":12.1,"f1":13.4,"p":0.85},{"m0":12.1,"m1":12.4,"f0":12.1,"f1":13.4,"p":0.45},{"m0":12.4,"m1":12.7,"f0":12.1,"f1":13.4,"p":0.3},{"m0":12.7,"m1":14.3,"f0":12.1,"f1":13.4,"p":0.2},{"m0":14.3,"m1":15,"f0":12.1,"f1":13.4,"p":0.45},{"m0":15,"m1":15.4,"f0":12.1,"f1":13.4,"p":0.55},{"m0":15.4,"m1":15.7,"f0":12.1,"f1":13.4,"p":0.7},{"m0":15.7,"m1":15.95,"f0":12.1,"f1":13.4,"p":0.9},{"m0":15.95,"m1":17,"f0":12.1,"f1":13.4,"p":1},{"m0":12,"m1":12.1,"f0":10.46,"f1":12.1,"p":0.85},{"m0":12.1,"m1":15,"f0":10.46,"f1":12.1,"p":0.65},{"m0":15,"m1":15.4,"f0":10.46,"f1":12.1,"p":0.7},{"m0":15.4,"m1":15.7,"f0":10.46,"f1":12.1,"p":0.8},{"m0":15.7,"m1":15.95,"f0":10.46,"f1":12.1,"p":0.92},{"m0":15.95,"m1":17,"f0":10.46,"f1":12.1,"p":1},{"m0":12,"m1":12.6,"f0":8.95,"f1":10.46,"p":1},{"m0":12.6,"m1":12.8,"f0":8.95,"f1":10.46,"p":0.75},{"m0":12.8,"m1":13,"f0":8.95,"f1":10.46,"p":0.5},{"m0":13,"m1":13.2,"f0":8.95,"f1":10.46,"p":0.55},{"m0":13.2,"m1":13.4,"f0":8.95,"f1":10.46,"p":0.8},{"m0":13.4,"m1":17,"f0":8.95,"f1":10.46,"p":1},{"m0":12,"m1":12.2,"f0":7.6,"f1":8.95,"p":0.05},{"m0":12.2,"m1":12.5,"f0":7.6,"f1":8.95,"p":0.2},{"m0":12.5,"m1":12.8,"f0":7.6,"f1":8.95,"p":0.5},{"m0":12.8,"m1":13,"f0":7.6,"f1":8.95,"p":0.85},{"m0":13,"m1":13.2,"f0":7.6,"f1":8.95,"p":0.7},{"m0":13.2,"m1":13.5,"f0":7.6,"f1":8.95,"p":0.4},{"m0":13.5,"m1":13.8,"f0":7.6,"f1":8.95,"p":0.2},{"m0":13.8,"m1":14.2,"f0":7.6,"f1":8.95,"p":0.05},{"m0":14.2,"m1":14.4,"f0":7.6,"f1":8.95,"p":0.1},{"m0":14.4,"m1":14.7,"f0":7.6,"f1":8.95,"p":0.45},{"m0":14.7,"m1":14.9,"f0":7.6,"f1":8.95,"p":0.7},{"m0":14.9,"m1":15.05,"f0":7.6,"f1":8.95,"p":0.9},{"m0":15.05,"m1":16.52,"f0":7.6,"f1":8.95,"p":1},{"m0":12,"m1":14.3,"f0":6.1,"f1":7.6,"p":0.3},{"m0":14.3,"m1":14.6,"f0":6.1,"f1":7.6,"p":0.4},{"m0":14.6,"m1":14.8,"f0":6.1,"f1":7.6,"p":0.6},{"m0":14.8,"m1":15,"f0":6.1,"f1":7.6,"p":0.85},{"m0":15,"m1":15.67,"f0":6.1,"f1":7.6,"p":1},{"m0":12.985,"m1":13.015,"f0":58,"f1":60,"p":1},{"m0":12.985,"m1":13.015,"f0":52,"f1":55,"p":0.03},{"m0":12.985,"m1":13.015,"f0":39.5,"f1":43,"p":1},{"m0":12.985,"m1":13.015,"f0":33,"f1":35.5,"p":1},{"m0":12.985,"m1":13.015,"f0":29.5,"f1":31,"p":1},{"m0":12.985,"m1":13.015,"f0":27,"f1":28,"p":0.03},{"m0":12.985,"m1":13.015,"f0":21,"f1":22,"p":1},{"m0":12.985,"m1":13.015,"f0":9.6,"f1":10.4,"p":1},{"m0":12.985,"m1":13.015,"f0":8.95,"f1":9.3,"p":0.03},{"m0":12.985,"m1":13.015,"f0":8.2,"f1":8.6,"p":1},{"m0":12.985,"m1":13.015,"f0":7.2,"f1":7.6,"p":0.03},{"m0":12.985,"m1":13.015,"f0":5.45,"f1":5.7,"p":1},{"m0":13.985,"m1":14.015,"f0":61,"f1":63,"p":1},{"m0":13.985,"m1":14.015,"f0":52,"f1":55,"p":0.03},{"m0":13.985,"m1":14.015,"f0":47,"f1":49,"p":1},{"m0":13.985,"m1":14.015,"f0":38.5,"f1":43,"p":0.03},{"m0":13.985,"m1":14.015,"f0":34,"f1":36,"p":1},{"m0":13.985,"m1":14.015,"f0":29,"f1":32,"p":1},{"m0":13.985,"m1":14.015,"f0":25.5,"f1":26.5,"p":1},{"m0":13.985,"m1":14.015,"f0":21,"f1":22,"p":1},{"m0":13.985,"m1":14.015,"f0":9.6,"f1":10.4,"p":1},{"m0":13.985,"m1":14.015,"f0":8.95,"f1":9.3,"p":0.03},{"m0":13.985,"m1":14.015,"f0":8.2,"f1":8.6,"p":1},{"m0":13.985,"m1":14.015,"f0":7.2,"f1":7.6,"p":0.03},{"m0":13.985,"m1":14.015,"f0":5.45,"f1":5.7,"p":1},{"m0":14.985,"m1":15.015,"f0":40,"f1":41.5,"p":1},{"m0":14.985,"m1":15.015,"f0":36,"f1":37.5,"p":1},{"m0":14.985,"m1":15.015,"f0":33,"f1":34.5,"p":1},{"m0":14.985,"m1":15.015,"f0":29,"f1":31,"p":1},{"m0":14.985,"m1":15.015,"f0":27,"f1":28,"p":1},{"m0":14.985,"m1":15.015,"f0":25,"f1":26,"p":1},{"m0":14.985,"m1":15.015,"f0":21,"f1":22,"p":1},{"m0":14.985,"m1":15.015,"f0":8.95,"f1":10,"p":0.03},{"m0":14.985,"m1":15.015,"f0":8.2,"f1":8.6,"p":1},{"m0":14.985,"m1":15.015,"f0":5.45,"f1":5.7,"p":1},{"m0":15.985,"m1":16.015,"f0":43,"f1":45,"p":1},{"m0":15.985,"m1":16.015,"f0":33,"f1":40,"p":0.03},{"m0":15.985,"m1":16.015,"f0":29,"f1":31,"p":1},{"m0":15.985,"m1":16.015,"f0":26,"f1":27.5,"p":0.7},{"m0":15.985,"m1":16.015,"f0":21.5,"f1":23,"p":0.03},{"m0":15.985,"m1":16.015,"f0":18.3,"f1":19.3,"p":0.03},{"m0":15.985,"m1":16.015,"f0":9.6,"f1":10.2,"p":0.03}],"bar":[{"a":0,"b":0.0125,"p":0.006},{"a":0.0125,"b":0.025,"p":0.019},{"a":0.025,"b":0.0375,"p":0.031},{"a":0.0375,"b":0.05,"p":0.044},{"a":0.05,"b":0.0625,"p":0.056},{"a":0.0625,"b":0.075,"p":0.069},{"a":0.075,"b":0.0875,"p":0.081},{"a":0.0875,"b":0.1,"p":0.094},{"a":0.1,"b":0.1125,"p":0.106},{"a":0.1125,"b":0.125,"p":0.119},{"a":0.125,"b":0.1375,"p":0.131},{"a":0.1375,"b":0.15,"p":0.144},{"a":0.15,"b":0.1625,"p":0.156},{"a":0.1625,"b":0.175,"p":0.169},{"a":0.175,"b":0.1875,"p":0.181},{"a":0.1875,"b":0.2,"p":0.194},{"a":0.2,"b":0.2125,"p":0.206},{"a":0.2125,"b":0.225,"p":0.219},{"a":0.225,"b":0.2375,"p":0.231},{"a":0.2375,"b":0.25,"p":0.244},{"a":0.25,"b":0.2625,"p":0.256},{"a":0.2625,"b":0.275,"p":0.269},{"a":0.275,"b":0.2875,"p":0.281},{"a":0.2875,"b":0.3,"p":0.294},{"a":0.3,"b":0.3125,"p":0.306},{"a":0.3125,"b":0.325,"p":0.319},{"a":0.325,"b":0.3375,"p":0.331},{"a":0.3375,"b":0.35,"p":0.344},{"a":0.35,"b":0.3625,"p":0.356},{"a":0.3625,"b":0.375,"p":0.369},{"a":0.375,"b":0.3875,"p":0.381},{"a":0.3875,"b":0.4,"p":0.394},{"a":0.4,"b":0.4125,"p":0.406},{"a":0.4125,"b":0.425,"p":0.419},{"a":0.425,"b":0.4375,"p":0.431},{"a":0.4375,"b":0.45,"p":0.444},{"a":0.45,"b":0.4625,"p":0.456},{"a":0.4625,"b":0.475,"p":0.469},{"a":0.475,"b":0.4875,"p":0.481},{"a":0.4875,"b":0.5,"p":0.494},{"a":0.5,"b":0.5125,"p":0.506},{"a":0.5125,"b":0.525,"p":0.519},{"a":0.525,"b":0.5375,"p":0.531},{"a":0.5375,"b":0.55,"p":0.544},{"a":0.55,"b":0.5625,"p":0.556},{"a":0.5625,"b":0.575,"p":0.569},{"a":0.575,"b":0.5875,"p":0.581},{"a":0.5875,"b":0.6,"p":0.594},{"a":0.6,"b":0.6125,"p":0.606},{"a":0.6125,"b":0.625,"p":0.619},{"a":0.625,"b":0.6375,"p":0.631},{"a":0.6375,"b":0.65,"p":0.644},{"a":0.65,"b":0.6625,"p":0.656},{"a":0.6625,"b":0.675,"p":0.669},{"a":0.675,"b":0.6875,"p":0.681},{"a":0.6875,"b":0.7,"p":0.694},{"a":0.7,"b":0.7125,"p":0.706},{"a":0.7125,"b":0.725,"p":0.719},{"a":0.725,"b":0.7375,"p":0.731},{"a":0.7375,"b":0.75,"p":0.744},{"a":0.75,"b":0.7625,"p":0.756},{"a":0.7625,"b":0.775,"p":0.769},{"a":0.775,"b":0.7875,"p":0.781},{"a":0.7875,"b":0.8,"p":0.794},{"a":0.8,"b":0.8125,"p":0.806},{"a":0.8125,"b":0.825,"p":0.819},{"a":0.825,"b":0.8375,"p":0.831},{"a":0.8375,"b":0.85,"p":0.844},{"a":0.85,"b":0.8625,"p":0.856},{"a":0.8625,"b":0.875,"p":0.869},{"a":0.875,"b":0.8875,"p":0.881},{"a":0.8875,"b":0.9,"p":0.894},{"a":0.9,"b":0.9125,"p":0.906},{"a":0.9125,"b":0.925,"p":0.919},{"a":0.925,"b":0.9375,"p":0.931},{"a":0.9375,"b":0.95,"p":0.944},{"a":0.95,"b":0.9625,"p":0.956},{"a":0.9625,"b":0.975,"p":0.969},{"a":0.975,"b":0.9875,"p":0.981},{"a":0.9875,"b":1,"p":0.994}]},"align":"none","columns":2,"spacing":25,"concat":[{"columns":4,"spacing":{"row":42,"column":13},"bounds":"flush","concat":[
{"title":{"text":"Red Clump","orient":"left","anchor":"middle","fontSize":29.5,"fontWeight":"normal","offset":23,"dx":7},"width":102,"height":204,"data":{"name":"hRc75"},"mark":{"type":"rect","color":"#ff0000","stroke":"#ff0000","strokeWidth":0.3,"clip":true},"encoding":{"x":{"field":"v","type":"quantitative","scale":{"domain":[0,1],"reverse":true,"nice":false},"axis":{"values":[0.5],"format":".1f","title":null,"tickSize":5,"labelPadding":4}},"x2":{"datum":0},"y":{"field":"f0","type":"quantitative","scale":{"type":"log","domain":[3,300],"nice":false},"axis":{"values":[3,4,5,6,7,8,9,10,20,30,40,50,60,70,80,90,100,200,300],"title":"νₘₐₓ [uHz]","titleFontSize":26,"titlePadding":5,"labelExpr":"datum.value==10?'10¹':datum.value==100?'10²':''","tickSize":{"condition":{"test":"datum.value==10||datum.value==100","value":5},"value":3}}},"y2":{"field":"f1"}}},
{"title":{"text":"7.5-Min Cadence","fontSize":29.5,"fontWeight":"normal","anchor":"middle","offset":7.5},"width":406,"height":204,"data":{"name":"rc75"},"mark":{"type":"rect","clip":true,"strokeWidth":0.5},"encoding":{"x":{"field":"m0","type":"quantitative","scale":{"domain":[12,19],"nice":false,"zero":false},"axis":{"values":[12,14,16,18],"format":"d","title":null,"tickSize":5,"labelPadding":4}},"x2":{"field":"m1"},"y":{"field":"f0","type":"quantitative","scale":{"type":"log","domain":[3,300],"nice":false},"axis":{"values":[3,4,5,6,7,8,9,10,20,30,40,50,60,70,80,90,100,200,300],"title":null,"labels":false,"tickSize":{"condition":{"test":"datum.value==10||datum.value==100","value":5},"value":3}}},"y2":{"field":"f1"},"fill":{"field":"p","type":"quantitative","scale":{"scheme":"viridis","domain":[0,1]},"legend":null},"stroke":{"field":"p","type":"quantitative","scale":{"scheme":"viridis","domain":[0,1]},"legend":null}}},
{"width":102,"height":204,"data":{"name":"hRc15"},"mark":{"type":"rect","color":"#ff0000","stroke":"#ff0000","strokeWidth":0.3,"clip":true},"encoding":{"x":{"field":"v","type":"quantitative","scale":{"domain":[0,1],"reverse":true,"nice":false},"axis":{"values":[0.5],"format":".1f","title":null,"tickSize":5,"labelPadding":4}},"x2":{"datum":0},"y":{"field":"f0","type":"quantitative","scale":{"type":"log","domain":[3,300],"nice":false},"axis":{"values":[3,4,5,6,7,8,9,10,20,30,40,50,60,70,80,90,100,200,300],"title":null,"labels":false,"tickSize":{"condition":{"test":"datum.value==10||datum.value==100","value":5},"value":3}}},"y2":{"field":"f1"}}},
{"title":{"text":"15-Min Cadence","fontSize":29.5,"fontWeight":"normal","anchor":"middle","offset":7.5},"width":406,"height":204,"data":{"name":"rc15"},"mark":{"type":"rect","clip":true,"strokeWidth":0.5},"encoding":{"x":{"field":"m0","type":"quantitative","scale":{"domain":[12,19],"nice":false,"zero":false},"axis":{"values":[12,14,16,18],"format":"d","title":null,"tickSize":5,"labelPadding":4}},"x2":{"field":"m1"},"y":{"field":"f0","type":"quantitative","scale":{"type":"log","domain":[3,300],"nice":false},"axis":{"values":[3,4,5,6,7,8,9,10,20,30,40,50,60,70,80,90,100,200,300],"title":null,"labels":false,"tickSize":{"condition":{"test":"datum.value==10||datum.value==100","value":5},"value":3}}},"y2":{"field":"f1"},"fill":{"field":"p","type":"quantitative","scale":{"scheme":"viridis","domain":[0,1]},"legend":null},"stroke":{"field":"p","type":"quantitative","scale":{"scheme":"viridis","domain":[0,1]},"legend":null}}},
{"title":{"text":"Red Giant Branch","orient":"left","anchor":"middle","fontSize":29.5,"fontWeight":"normal","offset":23,"dx":-3},"width":102,"height":204,"data":{"name":"hRgb75"},"mark":{"type":"rect","color":"#ff0000","stroke":"#ff0000","strokeWidth":0.3,"clip":true},"encoding":{"x":{"field":"v","type":"quantitative","scale":{"domain":[0,1],"reverse":true,"nice":false},"axis":{"values":[0.5],"format":".1f","title":"NΔν/Nνₘₐₓ","titleColor":"#ff0000","titleFontSize":20,"titleFontStyle":"italic","titlePadding":8,"tickSize":5,"labelPadding":4}},"x2":{"datum":0},"y":{"field":"f0","type":"quantitative","scale":{"type":"log","domain":[3,300],"nice":false},"axis":{"values":[3,4,5,6,7,8,9,10,20,30,40,50,60,70,80,90,100,200,300],"title":"νₘₐₓ [uHz]","titleFontSize":26,"titlePadding":5,"labelExpr":"datum.value==10?'10¹':datum.value==100?'10²':''","tickSize":{"condition":{"test":"datum.value==10||datum.value==100","value":5},"value":3}}},"y2":{"field":"f1"}}},
{"width":406,"height":204,"data":{"name":"rgb75"},"mark":{"type":"rect","clip":true,"strokeWidth":0.5},"encoding":{"x":{"field":"m0","type":"quantitative","scale":{"domain":[12,19],"nice":false,"zero":false},"axis":{"values":[12,14,16,18],"format":"d","title":"Hmag","titleFontSize":29,"titlePadding":7,"tickSize":5,"labelPadding":4}},"x2":{"field":"m1"},"y":{"field":"f0","type":"quantitative","scale":{"type":"log","domain":[3,300],"nice":false},"axis":{"values":[3,4,5,6,7,8,9,10,20,30,40,50,60,70,80,90,100,200,300],"title":null,"labels":false,"tickSize":{"condition":{"test":"datum.value==10||datum.value==100","value":5},"value":3}}},"y2":{"field":"f1"},"fill":{"field":"p","type":"quantitative","scale":{"scheme":"viridis","domain":[0,1]},"legend":null},"stroke":{"field":"p","type":"quantitative","scale":{"scheme":"viridis","domain":[0,1]},"legend":null}}},
{"width":102,"height":204,"data":{"name":"hRgb15"},"mark":{"type":"rect","color":"#ff0000","stroke":"#ff0000","strokeWidth":0.3,"clip":true},"encoding":{"x":{"field":"v","type":"quantitative","scale":{"domain":[0,1],"reverse":true,"nice":false},"axis":{"values":[0.5],"format":".1f","title":"NΔν/Nνₘₐₓ","titleColor":"#ff0000","titleFontSize":20,"titleFontStyle":"italic","titlePadding":8,"tickSize":5,"labelPadding":4}},"x2":{"datum":0},"y":{"field":"f0","type":"quantitative","scale":{"type":"log","domain":[3,300],"nice":false},"axis":{"values":[3,4,5,6,7,8,9,10,20,30,40,50,60,70,80,90,100,200,300],"title":null,"labels":false,"tickSize":{"condition":{"test":"datum.value==10||datum.value==100","value":5},"value":3}}},"y2":{"field":"f1"}}},
{"width":406,"height":204,"data":{"name":"rgb15"},"mark":{"type":"rect","clip":true,"strokeWidth":0.5},"encoding":{"x":{"field":"m0","type":"quantitative","scale":{"domain":[12,19],"nice":false,"zero":false},"axis":{"values":[12,14,16,18],"format":"d","title":"Hmag","titleFontSize":29,"titlePadding":7,"tickSize":5,"labelPadding":4}},"x2":{"field":"m1"},"y":{"field":"f0","type":"quantitative","scale":{"type":"log","domain":[3,300],"nice":false},"axis":{"values":[3,4,5,6,7,8,9,10,20,30,40,50,60,70,80,90,100,200,300],"title":null,"labels":false,"tickSize":{"condition":{"test":"datum.value==10||datum.value==100","value":5},"value":3}}},"y2":{"field":"f1"},"fill":{"field":"p","type":"quantitative","scale":{"scheme":"viridis","domain":[0,1]},"legend":null},"stroke":{"field":"p","type":"quantitative","scale":{"scheme":"viridis","domain":[0,1]},"legend":null}}}
]},{"width":27,"height":467,"data":{"name":"bar"},"mark":{"type":"rect","strokeWidth":0.5},"view":{"stroke":null},"encoding":{"y":{"field":"a","type":"quantitative","scale":{"domain":[0,1],"nice":false,"range":[457,-10]},"axis":{"orient":"right","values":[0,0.5,1],"labelExpr":"datum.value==1?'1.00':format(datum.value,'.1f')","title":"Detection Probability","titleFontSize":32.5,"titleAngle":90,"titlePadding":9,"tickSize":5,"labelPadding":5}},"y2":{"field":"b"},"fill":{"field":"p","type":"quantitative","scale":{"scheme":"viridis","domain":[0,1]},"legend":null},"stroke":{"field":"p","type":"quantitative","scale":{"scheme":"viridis","domain":[0,1]},"legend":null}}}]}
